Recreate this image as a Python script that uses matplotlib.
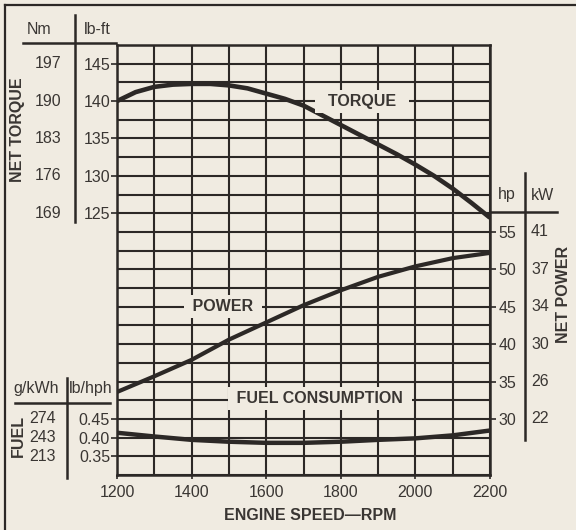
import matplotlib
matplotlib.use("Agg")
import matplotlib.pyplot as plt
from matplotlib.lines import Line2D
import matplotlib.transforms as mtrans

# ---------------- data ----------------
torque_rpm = [1200, 1250, 1300, 1350, 1400, 1450, 1500, 1550, 1600, 1650, 1700,
              1750, 1800, 1850, 1900, 1950, 2000, 2050, 2100, 2150, 2200]
torque_lbft = [140.0, 141.2, 141.9, 142.2, 142.3, 142.3, 142.1, 141.7, 141.0, 140.3, 139.4,
               138.1, 136.8, 135.5, 134.2, 132.9, 131.5, 130.0, 128.3, 126.4, 124.4]
rpm = [1200, 1300, 1400, 1500, 1600, 1700, 1800, 1900, 2000, 2100, 2200]
power_hp = [33.6, 35.7, 37.9, 40.6, 42.9, 45.2, 47.2, 49.0, 50.4, 51.5, 52.2]
fuel_lbhph = [0.413, 0.403, 0.394, 0.389, 0.386, 0.386, 0.389, 0.394, 0.398, 0.406, 0.419]

x_ticks = [1200, 1400, 1600, 1800, 2000, 2200]
torque_ticks = [145, 140, 135, 130, 125]
torque_nm = ["197", "190", "183", "176", "169"]
power_ticks = [55, 50, 45, 40, 35, 30]
power_kw = ["41", "37", "34", "30", "26", "22"]
fuel_ticks = [0.45, 0.40, 0.35]
fuel_gkwh = ["274", "243", "213"]

# ---------------- style ----------------
BG = "#f0ebe1"
INK = "#2c2826"
TXT = "#3a3633"
FS = 11.5
W, H = 576, 530
plt.rcParams['font.family'] = ['Liberation Sans', 'DejaVu Sans']

fig = plt.figure(figsize=(W / 100, H / 100), dpi=100)
fig.patch.set_facecolor(BG)

def fx(px):
    return px / W

def fy(py):
    return 1 - py / H

L, R, T, B = 117, 490, 45, 475
ax = fig.add_axes([fx(L), fy(B), fx(R) - fx(L), fy(T) - fy(B)])
ax.set_facecolor(BG)
ax.set_xlim(1200, 2200)
ax.set_ylim(90, 147.5)

# grid
for xv in range(1200, 2201, 100):
    ax.axvline(xv, color=INK, lw=1.5, zorder=1)
for i in range(24):
    ax.axhline(90 + 2.5 * i, color=INK, lw=1.5, zorder=1)
for s in ax.spines.values():
    s.set_color(INK)
    s.set_linewidth(1.8)

ax.set_xticks(x_ticks)
ax.set_xticklabels([str(v) for v in x_ticks])
ax.tick_params(axis='x', direction='out', length=3, width=1.2, color=INK,
               labelsize=FS, labelcolor=TXT, pad=4)
ax.set_yticks(torque_ticks)
ax.set_yticklabels([str(v) for v in torque_ticks])
ax.tick_params(axis='y', direction='out', length=4, width=1.2, color=INK,
               labelsize=FS, labelcolor=TXT, pad=1)

# power axis
axp = ax.twinx()
axp.set_ylim(22.5, 80)
axp.set_yticks(power_ticks)
axp.set_yticklabels([str(v) for v in power_ticks])
axp.tick_params(axis='y', direction='out', length=4, width=1.2, color=INK,
                labelsize=FS, labelcolor=TXT, pad=2)
for s in axp.spines.values():
    s.set_visible(False)

# fuel axis
axf = ax.twinx()
axf.set_ylim(0.30, 1.45)
axf.yaxis.tick_left()
axf.set_yticks(fuel_ticks)
axf.set_yticklabels([f"{v:.2f}" for v in fuel_ticks])
axf.tick_params(axis='y', direction='out', length=4, width=1.2, color=INK,
                labelsize=FS, labelcolor=TXT, pad=1)
for s in axf.spines.values():
    s.set_visible(False)

# curves
ax.plot(torque_rpm, torque_lbft, color=INK, lw=3.3, solid_capstyle='butt',
        solid_joinstyle='round', zorder=3)
axp.plot(rpm, power_hp, color=INK, lw=3.0, solid_capstyle='butt',
         solid_joinstyle='round', zorder=3)
axf.plot(rpm, fuel_lbhph, color=INK, lw=3.2, solid_capstyle='butt',
         solid_joinstyle='round', zorder=3)

# curve labels (boxes hide grid)
lab = dict(fontsize=FS, fontweight='bold', color=TXT, ha='center', va='center',
           zorder=5, bbox=dict(boxstyle='square,pad=0.25', fc=BG, ec='none'))
ax.text(1857, 140, "  TORQUE  ", **lab)
axp.text(1484, 45.0, " POWER ", **lab)
ax.text(1744, 100.2, " FUEL CONSUMPTION ", **lab)

# side tables
def vline(x, y0, y1, lw=1.8):
    fig.add_artist(Line2D([fx(x), fx(x)], [fy(y0), fy(y1)], color=INK, lw=lw))

def hline(y, x0, x1, lw=1.8):
    fig.add_artist(Line2D([fx(x0), fx(x1)], [fy(y), fy(y)], color=INK, lw=lw))

# frame
hline(5, 5, 576, lw=1.6)
vline(5, 5, 530, lw=1.6)

# torque table
hline(43, 23, 116)
vline(75, 15, 222)
fig.text(fx(39), fy(30), "Nm", fontsize=FS, color=TXT, ha='center', va='center')
fig.text(fx(97), fy(30), "lb-ft", fontsize=FS, color=TXT, ha='center', va='center')
tr_t = mtrans.blended_transform_factory(fig.transFigure, ax.transData)
for v, n in zip(torque_ticks, torque_nm):
    fig.text(fx(48), v, n, transform=tr_t, fontsize=FS, color=TXT,
             ha='center', va='center')
fig.text(fx(18), fy(130), "NET TORQUE", rotation=90, fontsize=FS,
         fontweight='bold', color=TXT, ha='center', va='center')

# power table
hline(212, 490, 557)
vline(525, 173, 440)
fig.text(fx(507), fy(195), "hp", fontsize=FS, color=TXT, ha='center', va='center')
fig.text(fx(543), fy(195), "kW", fontsize=FS, color=TXT, ha='center', va='center')
tr_p = mtrans.blended_transform_factory(fig.transFigure, axp.transData)
for v, n in zip(power_ticks, power_kw):
    fig.text(fx(531), v, n, transform=tr_p, fontsize=FS, color=TXT,
             ha='left', va='center')
fig.text(fx(564), fy(294), "NET POWER", rotation=90, fontsize=FS,
         fontweight='bold', color=TXT, ha='center', va='center')

# fuel table
hline(403, 15, 110)
vline(67, 378, 478)
fig.text(fx(36), fy(388), "g/kWh", fontsize=FS, color=TXT, ha='center', va='center')
fig.text(fx(91), fy(388), "lb/hph", fontsize=FS, color=TXT, ha='center', va='center')
tr_f = mtrans.blended_transform_factory(fig.transFigure, axf.transData)
for v, n in zip(fuel_ticks, fuel_gkwh):
    fig.text(fx(43), v, n, transform=tr_f, fontsize=FS, color=TXT,
             ha='center', va='center')
fig.text(fx(18), fy(436), "FUEL", rotation=90, fontsize=FS,
         fontweight='bold', color=TXT, ha='center', va='center')

# x label
fig.text(fx(310), fy(515), "ENGINE SPEED\u2014RPM", fontsize=FS, fontweight='bold',
         color=TXT, ha='center', va='center')

fig.savefig("out.png", dpi=100, facecolor=BG)
